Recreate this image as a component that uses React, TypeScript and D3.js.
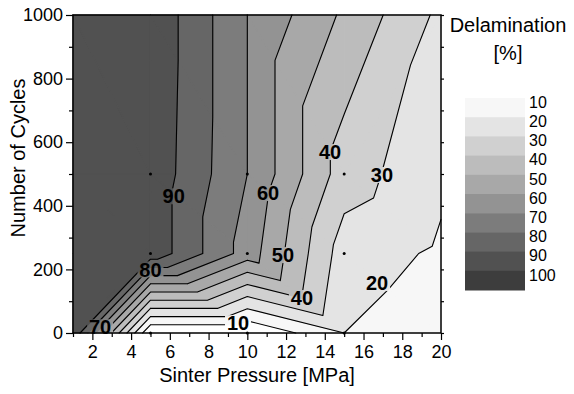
import React, { useRef, useEffect } from 'react';
import * as d3 from 'd3';

// measured grid: sinter pressure [MPa] x number of cycles
const pressures = [1, 5, 10, 15, 20];
const cycles = [0, 250, 500, 1000];

// delamination [%], one row per cycle count, one value per pressure
const delam0 = [99, 0, 0, 20, 14];
const delam250 = [99, 97, 65.5, 25, 18.5];
const delam500 = [99, 97, 70, 35, 22];
const delam1000 = [99, 98, 70, 48.3, 27.7];

// triangulation: diagonal of each grid cell, bottom row first
const diag0 = ['/', '\\', '\\', '\\'];
const diag250 = ['\\', '\\', '\\', '\\'];
const diag500 = ['\\', '\\', '\\', '/'];

const levels = [10, 20, 30, 40, 50, 60, 70, 80, 90, 100];
const xMajor = [2, 4, 6, 8, 10, 12, 14, 16, 18, 20];
const xMinor = [1, 3, 5, 7, 9, 11, 13, 15, 17, 19];
const yMajor = [0, 200, 400, 600, 800, 1000];
const yMinor = [100, 300, 500, 700, 900];

// contour labels (level, pressure, cycles)
const labelLevels = [90, 80, 70, 60, 50, 40, 40, 30, 20, 10];
const labelP = [6.2, 5.0, 2.4, 11.07, 11.84, 14.27, 12.82, 16.95, 16.7, 9.52];
const labelC = [430, 200, 18, 440, 245, 569, 110, 497, 157, 31];

const bandColors = ['#ffffff', '#f7f7f7', '#e4e4e4', '#d0d0d0', '#bcbcbc', '#a8a8a8',
  '#939393', '#7c7c7c', '#666666', '#515151', '#3d3d3d'];

const FONT = '"Liberation Sans", Arial, sans-serif';

const clip = (poly, level, above) => {
  const out = [];
  for (let k = 0; k < poly.length; k++) {
    const P = poly[k], Q = poly[(k + 1) % poly.length];
    const pin = above ? P.v >= level : P.v <= level;
    const qin = above ? Q.v >= level : Q.v <= level;
    if (pin) out.push(P);
    if (pin !== qin) {
      const t = (level - P.v) / (Q.v - P.v);
      out.push({ x: P.x + t * (Q.x - P.x), y: P.y + t * (Q.y - P.y), v: level });
    }
  }
  return out;
};

const ContourChart = ({ width, height }) => {
  const svgRef = useRef(null);

  useEffect(() => {
    const svg = d3.select(svgRef.current);
    svg.selectAll('*').remove();

    const x = d3.scaleLinear().domain([1, 20]).range([73, 441]);
    const y = d3.scaleLinear().domain([0, 1000]).range([333, 15]);

    // build triangles
    const rows = [delam0, delam250, delam500, delam1000];
    const diags = [diag0, diag250, diag500];
    const node = (i, j) => ({ x: pressures[i], y: cycles[j], v: rows[j][i] });
    const tris = [];
    for (let j = 0; j < cycles.length - 1; j++) {
      for (let i = 0; i < pressures.length - 1; i++) {
        const a = node(i, j), b = node(i + 1, j), c = node(i + 1, j + 1), d = node(i, j + 1);
        if (diags[j][i] === '/') { tris.push([a, b, c], [a, c, d]); }
        else { tris.push([a, b, d], [b, c, d]); }
      }
    }

    const toPath = pts => 'M' + pts.map(p => `${x(p.x)},${y(p.y)}`).join('L') + 'Z';

    // filled bands
    const fills = svg.append('g');
    const lows = [0, ...levels];
    lows.forEach((lo, k) => {
      const hi = k < lows.length - 1 ? lows[k + 1] : Infinity;
      tris.forEach(t => {
        let poly = clip(t, lo, true);
        if (poly.length >= 3 && hi !== Infinity) poly = clip(poly, hi, false);
        if (poly.length < 3) return;
        fills.append('path')
          .attr('d', toPath(poly))
          .attr('fill', bandColors[k])
          .attr('stroke', bandColors[k])
          .attr('stroke-width', 1.2)
          .attr('stroke-linejoin', 'round');
      });
    });

    // label mask
    const defs = svg.append('defs');
    const mask = defs.append('mask').attr('id', 'lblmask');
    mask.append('rect').attr('width', width).attr('height', height).attr('fill', '#fff');
    labelLevels.forEach((lv, i) => {
      const w = String(lv).length * 11 + 4;
      mask.append('rect')
        .attr('x', x(labelP[i]) - w / 2).attr('y', y(labelC[i]) - 8)
        .attr('width', w).attr('height', 16).attr('fill', '#000');
    });

    // contour lines
    const lines = svg.append('g').attr('mask', 'url(#lblmask)');
    levels.forEach(L => {
      let d = '';
      tris.forEach(t => {
        const pts = [];
        for (let k = 0; k < 3; k++) {
          const P = t[k], Q = t[(k + 1) % 3];
          if ((P.v >= L) !== (Q.v >= L)) {
            const s = (L - P.v) / (Q.v - P.v);
            pts.push([x(P.x + s * (Q.x - P.x)), y(P.y + s * (Q.y - P.y))]);
          }
        }
        if (pts.length === 2) d += `M${pts[0][0]},${pts[0][1]}L${pts[1][0]},${pts[1][1]}`;
      });
      if (d) lines.append('path').attr('d', d).attr('fill', 'none')
        .attr('stroke', '#000').attr('stroke-width', 1.1).attr('stroke-linecap', 'round');
    });

    // data points (interior and bottom row)
    const nodes = [];
    cycles.forEach((c, j) => pressures.forEach((p, i) => {
      if (i > 0 && i < pressures.length - 1 && j < cycles.length - 1) nodes.push(node(i, j));
    }));
    svg.append('g').selectAll('circle').data(nodes).enter().append('circle')
      .attr('cx', d => x(d.x)).attr('cy', d => y(d.y)).attr('r', 1.5).attr('fill', '#000');

    // contour labels
    svg.append('g').selectAll('text').data(labelLevels).enter().append('text')
      .attr('x', (d, i) => x(labelP[i])).attr('y', (d, i) => y(labelC[i]))
      .attr('dy', '0.36em')
      .attr('text-anchor', 'middle')
      .attr('font-family', FONT).attr('font-size', 20).attr('font-weight', 'bold')
      .text(d => d);

    // axes
    const styleAxis = g => {
      g.select('.domain').remove();
      g.selectAll('line').attr('stroke', '#000').attr('stroke-width', 1.2);
      g.selectAll('text').attr('font-family', FONT).attr('font-size', 18).attr('fill', '#000');
    };
    svg.append('g').attr('transform', 'translate(0,333)')
      .call(d3.axisBottom(x).tickValues(xMajor).tickSize(7).tickPadding(5)).call(styleAxis);
    svg.append('g').attr('transform', 'translate(0,333)')
      .call(d3.axisBottom(x).tickValues(xMinor).tickSize(4).tickFormat(() => '')).call(styleAxis);
    svg.append('g').attr('transform', 'translate(73,0)')
      .call(d3.axisLeft(y).tickValues(yMajor).tickSize(7).tickPadding(3).tickFormat(d3.format('d')))
      .call(styleAxis);
    svg.append('g').attr('transform', 'translate(73,0)')
      .call(d3.axisLeft(y).tickValues(yMinor).tickSize(4).tickFormat(() => '')).call(styleAxis);
    svg.append('g').attr('transform', 'translate(441,0)')
      .call(d3.axisRight(y).tickValues([...yMajor, ...yMinor]).tickSize(3).tickFormat(() => '')).call(styleAxis);

    // frame
    svg.append('rect').attr('x', 73).attr('y', 15).attr('width', 368).attr('height', 318)
      .attr('fill', 'none').attr('stroke', '#000').attr('stroke-width', 1.5);

    // axis titles
    svg.append('text').attr('x', 257).attr('y', 382).attr('text-anchor', 'middle')
      .attr('font-family', FONT).attr('font-size', 20).text('Sinter Pressure [MPa]');
    svg.append('text').attr('transform', 'translate(25,158) rotate(-90)').attr('text-anchor', 'middle')
      .attr('font-family', FONT).attr('font-size', 20).text('Number of Cycles');

    // legend
    svg.append('text').attr('x', 508).attr('y', 32).attr('text-anchor', 'middle')
      .attr('font-family', FONT).attr('font-size', 20).text('Delamination');
    svg.append('text').attr('x', 508).attr('y', 60).attr('text-anchor', 'middle')
      .attr('font-family', FONT).attr('font-size', 20).text('[%]');

    const band = d3.scaleBand().domain(levels.map(String)).range([98, 290]);
    const leg = svg.append('g');
    leg.selectAll('rect').data(levels).enter().append('rect')
      .attr('x', 465).attr('y', d => band(String(d)))
      .attr('width', 60).attr('height', band.bandwidth() + 0.5)
      .attr('fill', (d, i) => bandColors[i + 1]);
    leg.selectAll('text').data(levels).enter().append('text')
      .attr('x', 529).attr('y', d => band(String(d)) + 4)
      .attr('dy', '0.36em')
      .attr('font-family', FONT).attr('font-size', 16)
      .text(d => d);
  }, [width, height]);

  return <svg ref={svgRef} width={width} height={height}
    style={{ position: 'absolute', left: 0, top: 0, background: '#fff' }} />;
};

export default function App() {
  return <ContourChart width={574} height={394} />;
}
